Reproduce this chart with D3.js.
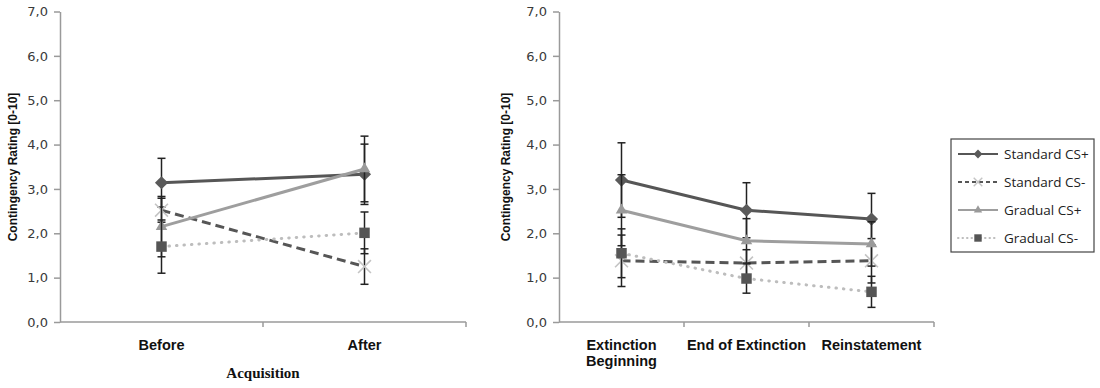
<!DOCTYPE html>
<html>
<head>
<meta charset="utf-8">
<script src="https://cdn.jsdelivr.net/npm/d3@7"></script>
<style>
  body { margin: 0; background: #fff; }
  svg { display: block; }
</style>
</head>
<body>
<svg id="chart" width="1100" height="388"></svg>
<script>
// categories
const acqCats = ["Before", "After"];
const extCats = ["Extinction Beginning", "End of Extinction", "Reinstatement"];
const extLabels = [["Extinction", "Beginning"], ["End of Extinction"], ["Reinstatement"]];
const yTicks = [0, 1, 2, 3, 4, 5, 6, 7];

// series (means) - acquisition
const acqStdPlus = [3.14, 3.33];
const acqStdMinus = [2.52, 1.25];
const acqGradPlus = [2.15, 3.45];
const acqGradMinus = [1.70, 2.01];
// error (SE) - acquisition
const acqStdPlusErr = [0.55, 0.68];
const acqStdMinusErr = [0.27, 0.40];
const acqGradPlusErr = [0.68, 0.74];
const acqGradMinusErr = [0.60, 0.47];

// series (means) - extinction
const extStdPlus = [3.20, 2.52, 2.32];
const extStdMinus = [1.38, 1.33, 1.38];
const extGradPlus = [2.52, 1.83, 1.76];
const extGradMinus = [1.55, 0.98, 0.68];
// error (SE) - extinction
const extStdPlusErr = [0.84, 0.62, 0.58];
const extStdMinusErr = [0.58, 0.30, 0.50];
const extGradPlusErr = [0.80, 0.50, 0.50];
const extGradMinusErr = [0.55, 0.33, 0.35];

const seriesNames = ["Standard CS+", "Standard CS-", "Gradual CS+", "Gradual CS-"];

const styles = {
  "Standard CS+": { stroke: "#565656", dash: null, marker: "diamond", mfill: "#5a5a5a" },
  "Standard CS-": { stroke: "#565656", dash: "9,5", marker: "x", mfill: "#c4c4c4" },
  "Gradual CS+": { stroke: "#9e9e9e", dash: null, marker: "triangle", mfill: "#9a9a9a" },
  "Gradual CS-": { stroke: "#bdbdbd", dash: "0.5,7", marker: "square", mfill: "#555555" }
};

const svg = d3.select("#chart");
const fmt = d => d3.format(".1f")(d).replace(".", ",");
const axisColor = "#9a9a9a";

function drawMarker(g, type, x, y, fill) {
  if (type == "diamond") {
    g.append("path").attr("d", d3.symbol(d3.symbolDiamond2, 110)())
      .attr("transform", `translate(${x},${y})`).attr("fill", fill);
  } else if (type == "triangle") {
    g.append("path").attr("d", d3.symbol(d3.symbolTriangle2, 95)())
      .attr("transform", `translate(${x},${y})`).attr("fill", fill);
  } else if (type == "square") {
    g.append("path").attr("d", d3.symbol(d3.symbolSquare2, 140)())
      .attr("transform", `translate(${x},${y})`).attr("fill", fill);
  } else {
    g.append("path").attr("d", d3.symbol(d3.symbolX, 110)())
      .attr("transform", `translate(${x},${y})`).attr("fill", "none")
      .attr("stroke", fill).attr("stroke-width", 1.6);
  }
}

function panel(cfg) {
  const xscale = d3.scaleBand().domain(cfg.cats).range([cfg.x0, cfg.x1]);
  const yscale = d3.scaleLinear().domain([0, 7]).range([322, 11.5]);
  const g = svg.append("g");

  // y axis
  const yaxis = d3.axisLeft(yscale).tickValues(yTicks).tickFormat(fmt).tickSize(6).tickSizeOuter(0).tickPadding(6);
  const yg = g.append("g").attr("transform", `translate(${cfg.x0},0)`).call(yaxis);
  yg.select(".domain").attr("stroke", axisColor).attr("stroke-width", 1.5);
  yg.selectAll(".tick line").attr("stroke", axisColor).attr("stroke-width", 1.5);
  yg.selectAll(".tick text").attr("fill", "#3a3a3a").style("font-family", "DejaVu Sans, sans-serif").style("font-size", "13px");

  // x axis with ticks between categories
  const xaxisLine = g.append("g");
  xaxisLine.append("line").attr("x1", cfg.x0).attr("x2", cfg.x1).attr("y1", yscale(0)).attr("y2", yscale(0))
    .attr("stroke", axisColor).attr("stroke-width", 1.5);
  cfg.cats.forEach(c => {
    const xe = xscale(c) + xscale.bandwidth();
    xaxisLine.append("line").attr("x1", xe).attr("x2", xe).attr("y1", yscale(0)).attr("y2", yscale(0) + 5)
      .attr("stroke", axisColor).attr("stroke-width", 1.5);
  });

  // x labels
  cfg.cats.forEach((c, i) => {
    const lines = cfg.labels[i];
    const t = g.append("text").attr("x", xscale(c) + xscale.bandwidth() / 2).attr("y", 350)
      .attr("text-anchor", "middle").attr("fill", "#111")
      .style("font-family", "Liberation Sans, Arial, sans-serif").style("font-weight", "bold").style("font-size", "14.5px");
    lines.forEach((l, j) => t.append("tspan").attr("x", xscale(c) + xscale.bandwidth() / 2).attr("dy", j == 0 ? 0 : 16).text(l));
  });

  // y title
  g.append("text").attr("transform", `translate(${cfg.ytx},167) rotate(-90)`)
    .attr("text-anchor", "middle").attr("dy", "0.35em").attr("fill", "#111")
    .style("font-family", "Liberation Sans, Arial, sans-serif").style("font-weight", "bold").style("font-size", "12px")
    .text("Contingency Rating [0-10]");

  if (cfg.title) {
    g.append("text").attr("x", (cfg.x0 + cfg.x1) / 2).attr("y", 378).attr("text-anchor", "middle")
      .attr("fill", "#111")
      .style("font-family", "Liberation Serif, Times New Roman, serif").style("font-weight", "bold").style("font-size", "15px")
      .text(cfg.title);
  }

  const cx = c => xscale(c) + xscale.bandwidth() / 2;
  const line = d3.line().x(d => cx(d.cat)).y(d => yscale(d.v));

  cfg.series.forEach((s, si) => {
    const st = styles[seriesNames[si]];
    const pts = cfg.cats.map((c, i) => ({ cat: c, v: s.vals[i], e: s.err[i] }));
    const sg = g.append("g");
    // error bars
    pts.forEach(p => {
      const x = cx(p.cat);
      sg.append("line").attr("x1", x).attr("x2", x).attr("y1", yscale(p.v + p.e)).attr("y2", yscale(p.v - p.e))
        .attr("stroke", "#222").attr("stroke-width", 1.5);
      [p.v + p.e, p.v - p.e].forEach(v => {
        sg.append("line").attr("x1", x - 4).attr("x2", x + 4).attr("y1", yscale(v)).attr("y2", yscale(v))
          .attr("stroke", "#222").attr("stroke-width", 1.5);
      });
    });
    sg.append("path").datum(pts).attr("d", line).attr("fill", "none")
      .attr("stroke", st.stroke).attr("stroke-width", 3)
      .attr("stroke-dasharray", st.dash).attr("stroke-linecap", st.marker == "square" ? "round" : "butt");
    pts.forEach(p => drawMarker(sg, st.marker, cx(p.cat), yscale(p.v), st.mfill));
  });
}

panel({
  cats: acqCats, labels: acqCats.map(d => [d]), x0: 60, x1: 466, ytx: 13, title: "Acquisition",
  series: [
    { vals: acqStdPlus, err: acqStdPlusErr },
    { vals: acqStdMinus, err: acqStdMinusErr },
    { vals: acqGradPlus, err: acqGradPlusErr },
    { vals: acqGradMinus, err: acqGradMinusErr }
  ]
});

panel({
  cats: extCats, labels: extLabels, x0: 559, x1: 934, ytx: 506, title: null,
  series: [
    { vals: extStdPlus, err: extStdPlusErr },
    { vals: extStdMinus, err: extStdMinusErr },
    { vals: extGradPlus, err: extGradPlusErr },
    { vals: extGradMinus, err: extGradMinusErr }
  ]
});

// legend
const legend = svg.append("g");
legend.append("rect").attr("x", 951).attr("y", 139).attr("width", 143).attr("height", 113)
  .attr("fill", "#fff").attr("stroke", "#444").attr("stroke-width", 1.2);
const legY = d3.scalePoint().domain(seriesNames).range([154, 238]);
seriesNames.forEach(n => {
  const st = styles[n];
  const y = legY(n);
  legend.append("line").attr("x1", 958).attr("x2", 998).attr("y1", y).attr("y2", y)
    .attr("stroke", st.stroke).attr("stroke-width", 2)
    .attr("stroke-dasharray", st.dash == null ? null : (st.marker == "square" ? "0.5,4" : "4,3"))
    .attr("stroke-linecap", st.marker == "square" ? "round" : "butt");
  const mg = legend.append("g");
  const fill = st.mfill;
  if (st.marker == "diamond") mg.append("path").attr("d", d3.symbol(d3.symbolDiamond2, 50)()).attr("transform", `translate(978,${y})`).attr("fill", fill);
  else if (st.marker == "triangle") mg.append("path").attr("d", d3.symbol(d3.symbolTriangle2, 50)()).attr("transform", `translate(978,${y})`).attr("fill", fill);
  else if (st.marker == "square") mg.append("path").attr("d", d3.symbol(d3.symbolSquare2, 70)()).attr("transform", `translate(978,${y})`).attr("fill", fill);
  else mg.append("path").attr("d", d3.symbol(d3.symbolX, 50)()).attr("transform", `translate(978,${y})`).attr("fill", "none").attr("stroke", fill).attr("stroke-width", 1.4);
  legend.append("text").attr("x", 1004).attr("y", y).attr("dy", "0.35em").attr("fill", "#222")
    .style("font-family", "Open Sans, sans-serif").style("font-size", "13.5px").text(n);
});
</script>
</body>
</html>
